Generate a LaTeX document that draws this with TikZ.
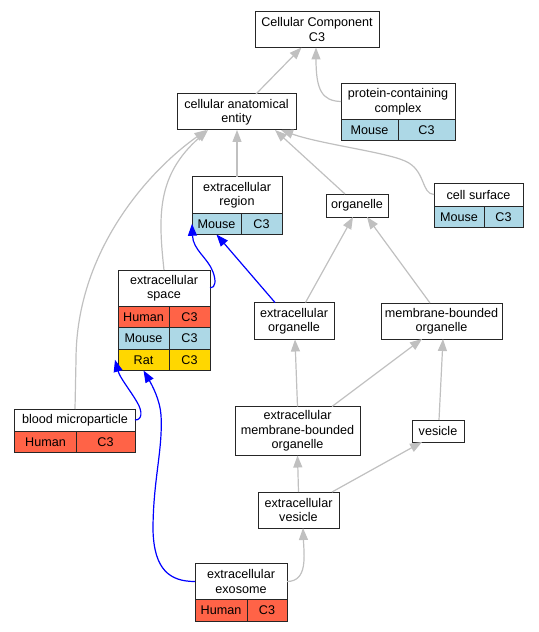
\documentclass[tikz,border=0pt]{standalone}
\usepackage{fontspec}
\setmainfont{Liberation Sans}
\usetikzlibrary{arrows.meta}

\definecolor{human}{HTML}{FF6347}
\definecolor{mouse}{HTML}{ADD8E6}
\definecolor{rat}{HTML}{FFD700}
\definecolor{isagray}{HTML}{C0C0C0}

\tikzset{
    term/.style={draw=black!85, line width=1bp, inner sep=0pt, outer sep=0pt, align=center,
        font=\fontsize{12.6bp}{14.5bp}\selectfont},
    cell/.style={term, anchor=north west, minimum height=21.5bp},
    isa/.style={draw=isagray, line width=1.2bp, -{Triangle[length=12bp,width=9bp]}},
    partof/.style={draw=blue, line width=1.2bp, -{Triangle[length=12bp,width=9bp]}}
}

\begin{document}
\begin{tikzpicture}[x=1bp, y=-1bp]
        \useasboundingbox (0, 0) rectangle (539, 632);

        \node[term, minimum width=124bp, minimum height=36bp] (cc) at (317, 29.5) {Cellular Component\\C3};
        \node[term, minimum width=119bp, minimum height=36bp] (cae) at (236.5, 112) {cellular anatomical\\entity};

        \node[term, minimum width=114bp, minimum height=36bp] (pcc) at (398, 101.5) {protein-containing\\complex};
        \node[cell, fill=mouse, minimum width=57bp] (pccm) at (pcc.south west) {Mouse};
        \node[cell, fill=mouse, minimum width=57bp] (pccc) at (pccm.north east) {C3};

        \node[term, minimum width=90bp, minimum height=36bp] (er) at (237, 195) {extracellular\\region};
        \node[cell, fill=mouse, minimum width=49bp] (erm) at (er.south west) {Mouse};
        \node[cell, fill=mouse, minimum width=41bp] (erc) at (erm.north east) {C3};

        \node[term, minimum width=62bp, minimum height=23bp] (org) at (357, 205.5) {organelle};

        \node[term, minimum width=89bp, minimum height=23bp] (cs) at (478.5, 194.5) {cell surface};
        \node[cell, fill=mouse, minimum width=50bp] (csm) at (cs.south west) {Mouse};
        \node[cell, fill=mouse, minimum width=39bp] (csc) at (csm.north east) {C3};

        \node[term, minimum width=92bp, minimum height=36bp] (es) at (164, 288) {extracellular\\space};
        \foreach \sp/\col [count=\i] in {Human/human, Mouse/mouse, Rat/rat} {
            \node[cell, fill=\col, minimum width=51bp] (es\i) at ([yshift={-21.5bp*(\i-1)}]es.south west) {\sp};
            \node[cell, fill=\col, minimum width=41bp] (esc\i) at (es\i.north east) {C3};
        }

        \node[term, minimum width=80bp, minimum height=37bp] (eo) at (294, 321) {extracellular\\organelle};
        \node[term, minimum width=121bp, minimum height=36bp] (mbo) at (441.5, 321) {membrane-bounded\\organelle};

        \node[term, minimum width=120bp, minimum height=22bp] (bm) at (75, 420) {blood microparticle};
        \node[cell, fill=human, minimum width=61bp] (bmh) at (bm.south west) {Human};
        \node[cell, fill=human, minimum width=59bp] (bmc) at (bmh.north east) {C3};

        \node[term, minimum width=125bp, minimum height=49bp] (embo) at (297.5, 431) {extracellular\\membrane-bounded\\organelle};
        \node[term, minimum width=52bp, minimum height=22bp] (ves) at (438, 431) {vesicle};
        \node[term, minimum width=81bp, minimum height=36bp] (ev) at (298.5, 510) {extracellular\\vesicle};

        \node[term, minimum width=92bp, minimum height=36bp] (ex) at (241, 581.5) {extracellular\\exosome};
        \node[cell, fill=human, minimum width=52bp] (exh) at (ex.south west) {Human};
        \node[cell, fill=human, minimum width=40bp] (exc) at (exh.north east) {C3};

        \draw[isa] ([xshift=19.5bp]cae.north) -- ([xshift=-15.5bp]cc.south);
        \draw[isa] (pcc.west) .. controls (322, 101) and (316, 90) .. ([xshift=-1bp]cc.south);
        \draw[isa] (er.north) -- (er.north |- cae.south);
        \draw[isa] ([xshift=-12bp]org.north) -- ([xshift=38.5bp]cae.south);
        \draw[isa] (cs.west) .. controls (421, 194) and (426, 170) .. (405, 161)
            .. controls (385, 152) and (320, 144) .. ([xshift=44.5bp]cae.south);
        \draw[isa] (es.north) .. controls (158, 215) and (157, 175) .. ([xshift=-28.5bp]cae.south);
        \draw[isa] (bm.north) -- (76, 360) .. controls (76, 250) and (150, 170) .. ([xshift=-30bp]cae.south);
        \draw[isa] ([xshift=11.5bp]eo.north) -- ([xshift=-4bp]org.south);
        \draw[isa] ([xshift=-11.5bp]mbo.north) -- ([xshift=10bp]org.south);
        \draw[isa] (embo.north) -- ([xshift=1bp]eo.south);
        \draw[isa] ([xshift=34.5bp]embo.north) -- ([xshift=-19.5bp]mbo.south);
        \draw[isa] ([xshift=1bp]ves.north) -- ([xshift=1.5bp]mbo.south);
        \draw[isa] (ev.north) -- (embo.south);
        \draw[isa] ([xshift=33.5bp]ev.north) -- ([xshift=-16bp]ves.south);
        \draw[isa] (ex.east) .. controls (308, 581.5) and (304, 555) .. ([xshift=4.5bp]ev.south);

        \draw[partof] (es.east) .. controls (216, 288) and (216, 280) .. (213, 272)
            .. controls (208, 258) and (193, 250) .. (erm.west);
        \draw[partof] ([xshift=-19bp]eo.north) -- (erm.south);
        \draw[partof] (bm.east) .. controls (142, 420) and (143, 412) .. (137, 402)
            .. controls (130, 390) and (120, 378) .. ([xshift=-3bp]es3.west);
        \draw[partof] (ex.west) .. controls (170, 581.5) and (154, 570) .. (153, 530)
            .. controls (153, 480) and (163, 450) .. (161, 415)
            .. controls (160, 400) and (152, 385) .. (es3.south);
    \end{tikzpicture}
\end{document}
